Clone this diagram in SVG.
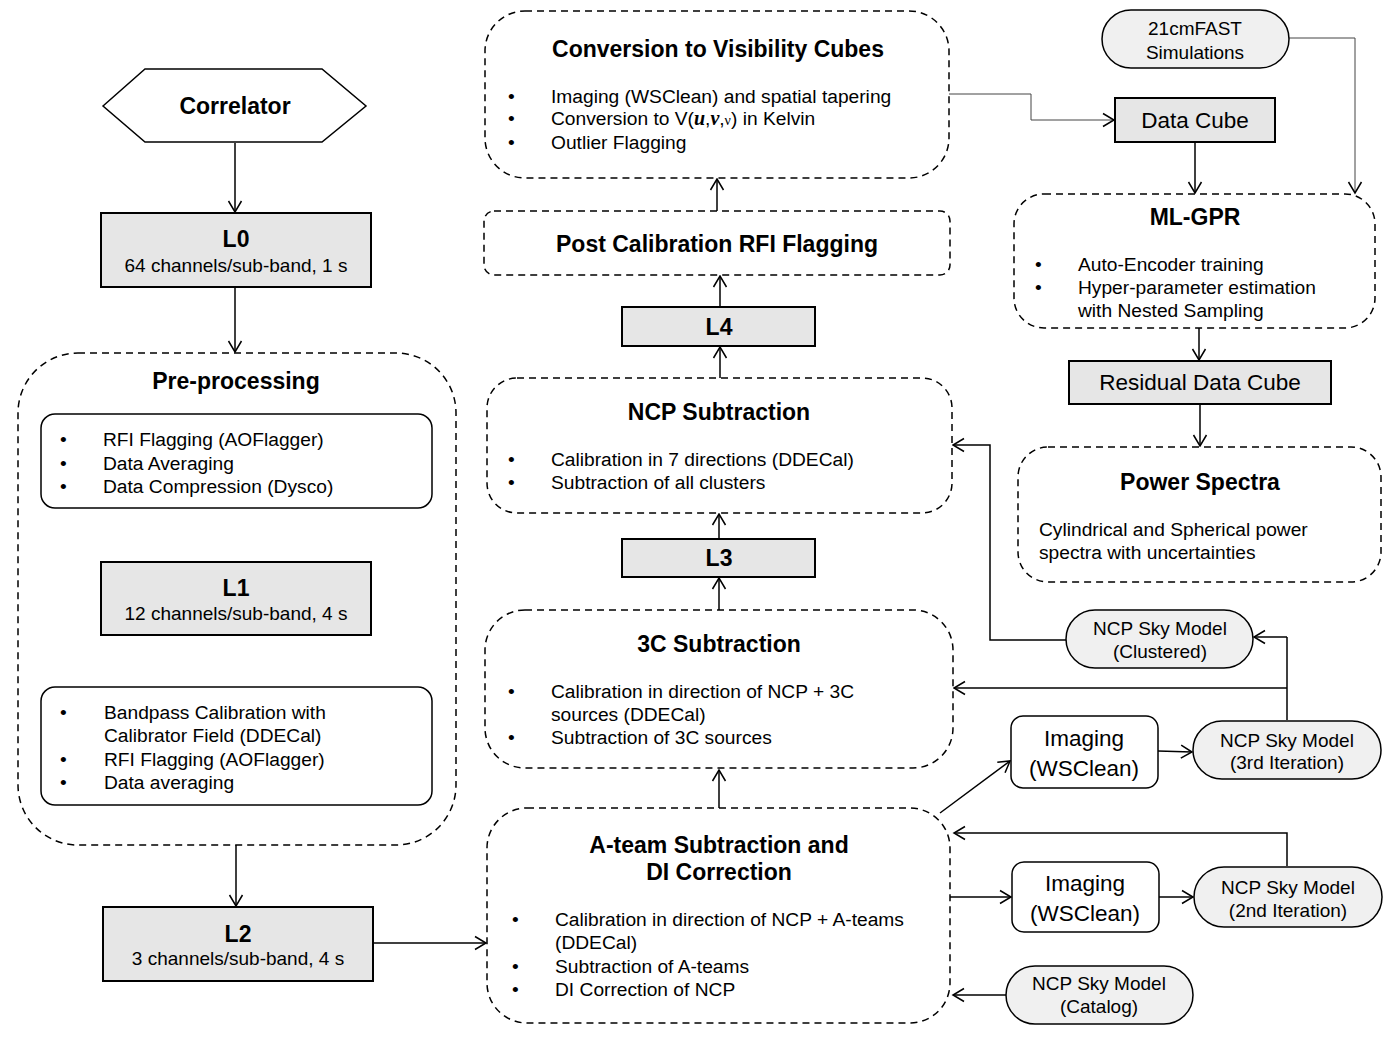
<svg xmlns="http://www.w3.org/2000/svg" width="1397" height="1040" viewBox="0 0 1397 1040">
<style>
text{font-family:"Liberation Sans",Arial,sans-serif;fill:#000}
.t{font-size:23px;font-weight:bold;text-anchor:middle}
.b{font-size:19.2px}
.c{font-size:19px;text-anchor:middle}
.big{font-size:22.5px;text-anchor:middle}
.dash{fill:#fff;stroke:#000;stroke-width:1.5;stroke-dasharray:7 5}
.lvl{fill:#e6e6e6;stroke:#000;stroke-width:2}
.sky{fill:#f0f0f0;stroke:#000;stroke-width:1.5}
.inner{fill:#fff;stroke:#000;stroke-width:1.5}
.ln{fill:none;stroke:#000;stroke-width:1.5;marker-end:url(#arr)}
.thin{fill:none;stroke:#444;stroke-width:1;marker-end:url(#arr)}
.ln2{fill:none;stroke:#000;stroke-width:1.5}
</style>
<defs>
<marker id="arr" markerUnits="userSpaceOnUse" markerWidth="14" markerHeight="14" refX="12" refY="7" orient="auto" overflow="visible">
<path d="M1,0.5 L12,7 L1,13.5" fill="none" stroke="#000" stroke-width="1.5"/>
</marker>
</defs>
<rect width="1397" height="1040" fill="#fff"/>

<g id="connectors">
<path class="ln" d="M235,143 V212"/>
<path class="ln" d="M235,287 V352"/>
<path class="ln" d="M236,508 V561"/>
<path class="ln" d="M236,635 V686"/>
<path class="ln" d="M236,845 V906"/>
<path class="ln" d="M373,943 H486"/>
<path class="ln" d="M719,808 V770"/>
<path class="ln" d="M719,610 V578"/>
<path class="ln" d="M719,539 V514"/>
<path class="ln" d="M720,378 V347"/>
<path class="ln" d="M720,307 V276"/>
<path class="ln" d="M717,211 V179"/>
<path class="thin" d="M949,94 H1031 V120 H1114"/>
<path class="thin" d="M1289,38 H1355 V193"/>
<path class="ln" d="M1195,142 V193"/>
<path class="ln" d="M1199,328 V360"/>
<path class="ln" d="M1200,404 V446"/>
<path class="ln" d="M1066,640 H990 V445 H953"/>
<path class="ln2" d="M1287,720 V637"/>
<path class="ln" d="M1287,637 H1254"/>
<path class="ln" d="M1287,688 H954"/>
<path class="ln" d="M940,813 L1010,761"/>
<path class="ln" d="M1158,751 L1192,752"/>
<path class="ln" d="M1287,866 V833 H954"/>
<path class="ln" d="M950,897 H1011"/>
<path class="ln" d="M1159,897 H1193"/>
<path class="ln" d="M1006,995 H953"/>
</g>

<g id="correlator">
<polygon points="103,106 145,69 322,69 366,106 322,142 145,142" fill="#fff" stroke="#000" stroke-width="1.5"/>
<text class="t" x="235" y="114">Correlator</text>
</g>

<g id="L0">
<rect class="lvl" x="101" y="213" width="270" height="74"/>
<text class="t" x="236" y="247">L0</text>
<text class="c" x="236" y="272">64 channels/sub-band, 1 s</text>
</g>

<g id="preprocessing">
<rect class="dash" x="18" y="353" width="438" height="492" rx="60"/>
<text class="t" x="236" y="389">Pre-processing</text>
</g>

<g id="preproc-steps1">
<rect class="inner" x="41" y="414" width="391" height="94" rx="14"/>
<text class="b" x="60" y="446">•</text><text class="b" x="103" y="446">RFI Flagging (AOFlagger)</text>
<text class="b" x="60" y="470">•</text><text class="b" x="103" y="470">Data Averaging</text>
<text class="b" x="60" y="493">•</text><text class="b" x="103" y="493">Data Compression (Dysco)</text>
</g>

<g id="L1">
<rect class="lvl" x="101" y="562" width="270" height="73"/>
<text class="t" x="236" y="596">L1</text>
<text class="c" x="236" y="620">12 channels/sub-band, 4 s</text>
</g>

<g id="preproc-steps2">
<rect class="inner" x="41" y="687" width="391" height="118" rx="14"/>
<text class="b" x="60" y="719">•</text><text class="b" x="104" y="719">Bandpass Calibration with</text>
<text class="b" x="104" y="742">Calibrator Field (DDECal)</text>
<text class="b" x="60" y="766">•</text><text class="b" x="104" y="766">RFI Flagging (AOFlagger)</text>
<text class="b" x="60" y="789">•</text><text class="b" x="104" y="789">Data averaging</text>
</g>

<g id="L2">
<rect class="lvl" x="103" y="907" width="270" height="74"/>
<text class="t" x="238" y="942">L2</text>
<text class="c" x="238" y="965">3 channels/sub-band, 4 s</text>
</g>

<g id="ateam">
<rect class="dash" x="487" y="808" width="463" height="215" rx="40"/>
<text class="t" x="719" y="853">A-team Subtraction and</text>
<text class="t" x="719" y="880">DI Correction</text>
<text class="b" x="512" y="926">•</text><text class="b" x="555" y="926">Calibration in direction of NCP + A-teams</text>
<text class="b" x="555" y="949">(DDECal)</text>
<text class="b" x="512" y="973">•</text><text class="b" x="555" y="973">Subtraction of A-teams</text>
<text class="b" x="512" y="996">•</text><text class="b" x="555" y="996">DI Correction of NCP</text>
</g>

<g id="sub3c">
<rect class="dash" x="485" y="610" width="468" height="158" rx="40"/>
<text class="t" x="719" y="652">3C Subtraction</text>
<text class="b" x="508" y="698">•</text><text class="b" x="551" y="698">Calibration in direction of NCP + 3C</text>
<text class="b" x="551" y="721">sources (DDECal)</text>
<text class="b" x="508" y="744">•</text><text class="b" x="551" y="744">Subtraction of 3C sources</text>
</g>

<g id="L3">
<rect class="lvl" x="622" y="539" width="193" height="38"/>
<text class="t" x="719" y="566">L3</text>
</g>

<g id="ncpsub">
<rect class="dash" x="487" y="378" width="465" height="135" rx="30"/>
<text class="t" x="719" y="420">NCP Subtraction</text>
<text class="b" x="508" y="466">•</text><text class="b" x="551" y="466">Calibration in 7 directions (DDECal)</text>
<text class="b" x="508" y="489">•</text><text class="b" x="551" y="489">Subtraction of all clusters</text>
</g>

<g id="L4">
<rect class="lvl" x="622" y="307" width="193" height="39"/>
<text class="t" x="719" y="335">L4</text>
</g>

<g id="postcal">
<rect class="dash" x="484" y="211" width="466" height="64" rx="10"/>
<text class="t" x="717" y="252">Post Calibration RFI Flagging</text>
</g>

<g id="conversion">
<rect class="dash" x="485" y="11" width="464" height="167" rx="40"/>
<text class="t" x="718" y="57">Conversion to Visibility Cubes</text>
<text class="b" x="508" y="103">•</text><text class="b" x="551" y="103">Imaging (WSClean) and spatial tapering</text>
<text class="b" x="508" y="125">•</text><text class="b" x="551" y="125">Conversion to V(<tspan font-family="Liberation Serif,serif" font-weight="bold" font-style="italic" font-size="20">u</tspan>,<tspan font-family="Liberation Serif,serif" font-weight="bold" font-style="italic" font-size="20">v</tspan>,<tspan font-family="Liberation Serif,serif" font-size="14">ν</tspan>) in Kelvin</text>
<text class="b" x="508" y="149">•</text><text class="b" x="551" y="149">Outlier Flagging</text>
</g>

<g id="sim21cm">
<rect class="sky" x="1102" y="10" width="187" height="58" rx="29"/>
<text class="c" x="1195" y="35">21cmFAST</text>
<text class="c" x="1195" y="59">Simulations</text>
</g>

<g id="datacube">
<rect class="lvl" x="1115" y="98" width="160" height="44"/>
<text class="big" x="1195" y="128">Data Cube</text>
</g>

<g id="mlgpr">
<rect class="dash" x="1014" y="194" width="361" height="134" rx="30"/>
<text class="t" x="1195" y="225">ML-GPR</text>
<text class="b" x="1035" y="271">•</text><text class="b" x="1078" y="271">Auto-Encoder training</text>
<text class="b" x="1035" y="294">•</text><text class="b" x="1078" y="294">Hyper-parameter estimation</text>
<text class="b" x="1078" y="317">with Nested Sampling</text>
</g>

<g id="residual">
<rect class="lvl" x="1069" y="361" width="262" height="43"/>
<text class="big" x="1200" y="390">Residual Data Cube</text>
</g>

<g id="powerspectra">
<rect class="dash" x="1018" y="447" width="363" height="135" rx="30"/>
<text class="t" x="1200" y="490">Power Spectra</text>
<text class="b" x="1039" y="536">Cylindrical and Spherical power</text>
<text class="b" x="1039" y="559">spectra with uncertainties</text>
</g>

<g id="sky-clustered">
<rect class="sky" x="1066" y="610" width="187" height="58" rx="29"/>
<text class="c" x="1160" y="635">NCP Sky Model</text>
<text class="c" x="1160" y="658">(Clustered)</text>
</g>

<g id="imaging1">
<rect class="inner" x="1011" y="716" width="147" height="72" rx="12"/>
<text class="big" x="1084" y="746">Imaging</text>
<text class="big" x="1084" y="776">(WSClean)</text>
</g>

<g id="sky-3rd">
<rect class="sky" x="1193" y="721" width="188" height="58" rx="29"/>
<text class="c" x="1287" y="747">NCP Sky Model</text>
<text class="c" x="1287" y="769">(3rd Iteration)</text>
</g>

<g id="imaging2">
<rect class="inner" x="1012" y="862" width="147" height="70" rx="12"/>
<text class="big" x="1085" y="891">Imaging</text>
<text class="big" x="1085" y="921">(WSClean)</text>
</g>

<g id="sky-2nd">
<rect class="sky" x="1194" y="867" width="188" height="60" rx="30"/>
<text class="c" x="1288" y="894">NCP Sky Model</text>
<text class="c" x="1288" y="917">(2nd Iteration)</text>
</g>

<g id="sky-catalog">
<rect class="sky" x="1006" y="966" width="187" height="58" rx="29"/>
<text class="c" x="1099" y="990">NCP Sky Model</text>
<text class="c" x="1099" y="1013">(Catalog)</text>
</g>
</svg>
